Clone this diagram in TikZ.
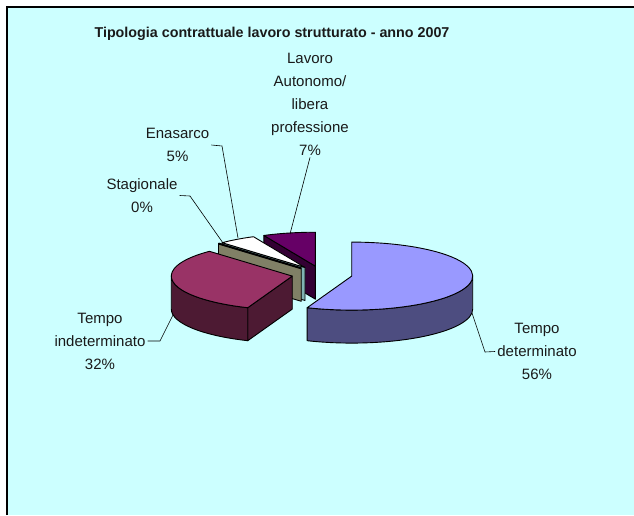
\documentclass[tikz,border=0pt]{standalone}
\usepackage{fontspec}
\setmainfont{Liberation Sans}
\usetikzlibrary{calc}
\definecolor{bg}{HTML}{CCFFFF}
\definecolor{bluetop}{HTML}{9999FF}
\definecolor{blueside}{HTML}{4D4D80}
\definecolor{redtop}{HTML}{993366}
\definecolor{redside}{HTML}{4D1A33}
\definecolor{khaki}{HTML}{808066}
\definecolor{tealside}{HTML}{80B3B3}
\definecolor{lavtop}{HTML}{660066}
\definecolor{lavside}{HTML}{330033}
\definecolor{txt}{HTML}{1A1A1A}
\tikzset{
  slice/.style={draw=black, line width=0.9pt, line join=round},
  lead/.style={draw=black, line width=0.6pt},
  lbl/.style={align=center, inner sep=2pt, text=txt, font=\fontsize{15}{23}\selectfont},
}
\begin{document}
\begin{tikzpicture}[x=1pt,y=1pt]
\useasboundingbox (0,0) rectangle (634,515);
\fill[white] (0,0) rectangle (634,515);
\fill[bg] (7,0) rectangle (634,508);
\draw[line width=1.8pt] (7,0) -- (7,508) -- (634,508);

% slice centres (exploded)
\coordinate (cb) at ({322+0.25*121*cos(-10.8)},{240.5+0.25*34*sin(-10.8)});
\coordinate (cr) at ({322+0.25*121*cos(-169.2)},{240.5+0.25*34*sin(-169.2)});
\coordinate (cs) at ({322+0.25*121*cos(133.2)},{240.5+0.25*34*sin(133.2)});
\coordinate (ce) at ({322+0.25*121*cos(124.2)},{240.5+0.25*34*sin(124.2)});
\coordinate (cl) at ({322+0.25*121*cos(102.6)},{240.5+0.25*34*sin(102.6)});

% Lavoro autonomo
\filldraw[slice, fill=lavside] (cl) -- ++({121*cos(115.2)},{34*sin(115.2)}) -- ++(0,-33) -- ($(cl)+(0,-33)$) -- cycle;
\filldraw[slice, fill=lavtop] (cl) -- ++({121*cos(115.2)},{34*sin(115.2)}) arc[start angle=115.2, end angle=90, x radius=121, y radius=34] -- cycle;

% Enasarco
\filldraw[slice, fill=tealside] (ce) -- ++({121*cos(133.2)},{34*sin(133.2)}) -- ++(0,-33) -- ($(ce)+(0,-33)$) -- cycle;
\filldraw[slice, fill=white] (ce) -- ++({121*cos(133.2)},{34*sin(133.2)}) arc[start angle=133.2, end angle=115.2, x radius=121, y radius=34] -- cycle;

% Stagionale
\filldraw[slice, fill=khaki] (cs) -- ++({121*cos(133.2)},{34*sin(133.2)}) -- ++(0,-33) -- ($(cs)+(0,-33)$) -- cycle;
\draw[line width=2pt] (cs) -- ++({121*cos(133.2)},{34*sin(133.2)});

% Tempo indeterminato
\filldraw[slice, fill=redside] (cr) -- ++({121*cos(248.4)},{34*sin(248.4)}) -- ++(0,-33) -- ($(cr)+(0,-33)$) -- cycle;
\filldraw[slice, fill=redside] ($(cr)+(-121,0)$) arc[start angle=180, end angle=248.4, x radius=121, y radius=34] -- ++(0,-33) arc[start angle=248.4, end angle=180, x radius=121, y radius=34] -- cycle;
\filldraw[slice, fill=redtop] (cr) -- ++({121*cos(133.2)},{34*sin(133.2)}) arc[start angle=133.2, end angle=248.4, x radius=121, y radius=34] -- cycle;

% Tempo determinato
\filldraw[slice, fill=blueside] ($(cb)+(121,0)$) arc[start angle=0, end angle=-111.6, x radius=121, y radius=34] -- ++(0,-33) arc[start angle=-111.6, end angle=0, x radius=121, y radius=34] -- cycle;
\filldraw[slice, fill=bluetop] (cb) -- ++({121*cos(-111.6)},{34*sin(-111.6)}) arc[start angle=-111.6, end angle=90, x radius=121, y radius=34] -- cycle;

% labels
\node[text=txt, font=\bfseries\fontsize{14.3}{17}\selectfont] (t) at (272,481) {Tipologia contrattuale lavoro strutturato - anno 2007};
\node[lbl] (lv) at (310,411) {Lavoro\\Autonomo/\\libera\\professione\\7\%};
\node[lbl] (en) at (177.5,370) {Enasarco\\5\%};
\node[lbl] (st) at (142,319.5) {Stagionale\\0\%};
\node[lbl] (ti) at (100,174) {Tempo\\indeterminato\\32\%};
\node[lbl] (td) at (537,163.5) {Tempo\\determinato\\56\%};

% leader lines
\coordinate (b1) at (472,202); \coordinate (b2) at (485,163);
\coordinate (r1) at (173,200); \coordinate (r2) at (160,174);
\coordinate (s1) at (190,319); \coordinate (s2) at (223,272);
\coordinate (e1) at (222,369); \coordinate (e2) at (238,277);
\coordinate (l1) at (290,281);
\draw[lead] (b1) -- (b2) -- (td.west);
\draw[lead] (r1) -- (r2) -- (ti.east);
\draw[lead] (st.east) -- (s1) -- (s2);
\draw[lead] (en.east) -- (e1) -- (e2);
\draw[lead] (lv.south) -- (l1);
\end{tikzpicture}
\end{document}
